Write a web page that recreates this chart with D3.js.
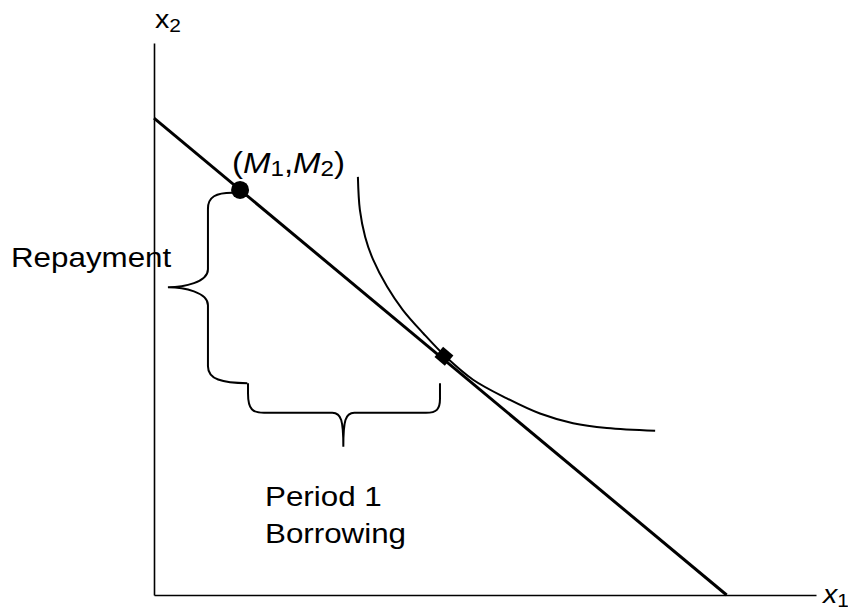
<!DOCTYPE html>
<html>
<head>
<meta charset="utf-8">
<script src="https://cdn.jsdelivr.net/npm/d3@7"></script>
<style>
  html, body { margin: 0; padding: 0; background: #fff; }
  svg { display: block; }
  text { font-family: "Liberation Sans", Arial, sans-serif; fill: #000; }
</style>
</head>
<body>
<svg id="chart" width="848" height="607"></svg>
<script>
// ---- data (economic units) ----
const budgetLine = [ {x: 0, y: 6.91}, {x: 8.65, y: 0} ];
const endowment = {x: 1.30, y: 5.87, label: "M"};
const optimum = {x: 4.38, y: 3.46};
const indifference = [
  {x: 3.08, y: 6.06}, {x: 3.11, y: 5.58}, {x: 3.19, y: 5.19}, {x: 3.31, y: 4.86},
  {x: 3.52, y: 4.47}, {x: 3.76, y: 4.13}, {x: 4.07, y: 3.79}, {x: 4.40, y: 3.46},
  {x: 4.82, y: 3.12}, {x: 5.33, y: 2.85}, {x: 5.83, y: 2.63}, {x: 6.33, y: 2.49},
  {x: 6.84, y: 2.42}, {x: 7.57, y: 2.38}
];
// brace annotations (economic units)
const repaymentBrace = {x: 0.815, tipX: 0.21, y0: 5.83, y1: 3.07, tipY: 4.46, end0X: 1.18, end1X: 1.41};
const borrowingBrace = {y: 2.64, tipY: 2.15, endY: 3.07, x0: 1.42, x1: 4.32, tipX: 2.86};
const axisLabels = {x: "x", xSub: "1", y: "x", ySub: "2"};
const textLabels = {repay: "Repayment", period: "Period 1", borrow: "Borrowing"};

// ---- scales ----
const x = d3.scaleLinear().domain([0, 10]).range([154, 816]);
const y = d3.scaleLinear().domain([0, 8]).range([595, 43]);
const svg = d3.select("#chart");

// axes (domain lines only)
svg.append("g").attr("transform", `translate(0,${y(0)})`)
  .call(d3.axisBottom(x).ticks(0).tickSizeOuter(0))
  .call(g => g.select(".domain").attr("stroke", "#000").attr("stroke-width", 1.6));
svg.append("g").attr("transform", `translate(${x(0)},0)`)
  .call(d3.axisLeft(y).ticks(0).tickSizeOuter(0))
  .call(g => g.select(".domain").attr("stroke", "#000").attr("stroke-width", 1.6));

const line = d3.line().x(d => x(d.x)).y(d => y(d.y));

// budget line
svg.append("path").datum(budgetLine).attr("d", line)
  .attr("fill", "none").attr("stroke", "#000").attr("stroke-width", 3);

// indifference curve
svg.append("path").datum(indifference)
  .attr("d", line.curve(d3.curveCatmullRom.alpha(0.5)))
  .attr("fill", "none").attr("stroke", "#000").attr("stroke-width", 2);

// braces
const vb = repaymentBrace;
{
  const X = x(vb.x), T = x(vb.tipX), y0 = y(vb.y0), y1 = y(vb.y1), ym = y(vb.tipY);
  const e0 = x(vb.end0X), e1 = x(vb.end1X);
  const p = d3.path();
  p.moveTo(e0, y0);
  p.bezierCurveTo(e0 - 16, y0, X, y0 + 4, X, y0 + 16);
  p.lineTo(X, ym - 18);
  p.bezierCurveTo(X, ym - 5, X - 24, ym, T, ym);
  p.bezierCurveTo(X - 24, ym, X, ym + 5, X, ym + 18);
  p.lineTo(X, y1 - 17);
  p.bezierCurveTo(X, y1 - 4, X + 14, y1, e1, y1);
  svg.append("path").attr("d", p.toString()).attr("fill", "none")
    .attr("stroke", "#000").attr("stroke-width", 2);
}
const hb = borrowingBrace;
{
  const Y = y(hb.y), Tp = y(hb.tipY), ye = y(hb.endY), xl = x(hb.x0), xr = x(hb.x1), xm = x(hb.tipX);
  const p = d3.path();
  p.moveTo(xl, ye);
  p.lineTo(xl, ye + 10);
  p.bezierCurveTo(xl, Y - 3, xl + 5, Y, xl + 16, Y);
  p.lineTo(xm - 11, Y);
  p.bezierCurveTo(xm - 2, Y, xm, Y + 8, xm, Tp);
  p.bezierCurveTo(xm, Y + 8, xm + 2, Y, xm + 11, Y);
  p.lineTo(xr - 14, Y);
  p.bezierCurveTo(xr - 3, Y, xr, Y - 4, xr, Y - 14);
  p.lineTo(xr, ye);
  svg.append("path").attr("d", p.toString()).attr("fill", "none")
    .attr("stroke", "#000").attr("stroke-width", 2);
}

// endowment point
svg.append("circle").attr("cx", x(endowment.x)).attr("cy", y(endowment.y)).attr("r", 9).attr("fill", "#000");

// optimum marker (square turned along the budget line)
const ang = Math.atan2(y(budgetLine[1].y) - y(budgetLine[0].y), x(budgetLine[1].x) - x(budgetLine[0].x)) * 180 / Math.PI;
svg.append("path").attr("d", d3.symbol(d3.symbolSquare, 180)())
  .attr("transform", `translate(${x(optimum.x)},${y(optimum.y)}) rotate(${ang})`)
  .attr("fill", "#000");

// text helper
function label(px, py, size, style) {
  return svg.append("text")
    .attr("transform", `translate(${px},${py}) scale(1.1,1)`)
    .attr("font-size", size).attr("font-style", style || "normal");
}

// axis labels
{
  const t = label(155, 28, 26);
  t.append("tspan").text(axisLabels.y);
  t.append("tspan").attr("font-size", 19).attr("dy", 4).text(axisLabels.ySub);
}
{
  const t = label(823, 603, 26, "italic");
  t.append("tspan").text(axisLabels.x);
  t.append("tspan").attr("font-size", 19).attr("dy", 4).attr("font-style", "normal").text(axisLabels.xSub);
}

// (M1,M2)
{
  const t = label(232, 173, 30);
  t.append("tspan").text("(");
  t.append("tspan").attr("font-style", "italic").text(endowment.label);
  t.append("tspan").attr("font-size", 22).attr("dy", 3).text("1");
  t.append("tspan").attr("dy", -3).text(",");
  t.append("tspan").attr("font-style", "italic").text(endowment.label);
  t.append("tspan").attr("font-size", 22).attr("dy", 3).text("2");
  t.append("tspan").attr("dy", -3).text(")");
}

label(11, 267, 28.5).text(textLabels.repay);
label(265, 506, 28.5).text(textLabels.period);
label(265, 543, 28.5).text(textLabels.borrow);
</script>
</body>
</html>
